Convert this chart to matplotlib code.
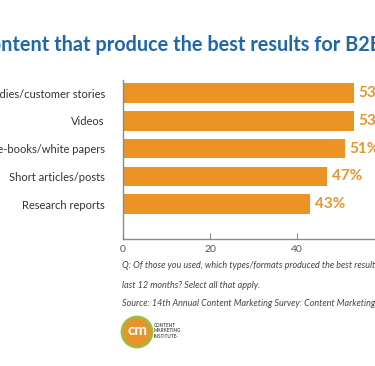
import matplotlib
matplotlib.use("Agg")
import matplotlib.pyplot as plt
from matplotlib.patches import Circle

# ---- data ----
categories = ["Case studies/customer stories", "Videos", "Long-form e-books/white papers",
              "Short articles/posts", "Research reports"]
values = [53, 53, 51, 47, 43]
value_labels = ["53%", "53%", "51%", "47%", "43%"]
x_ticks = [0, 20, 40, 60]
title = "Types of content that produce the best results for B2B marketers"
title_hidden_prefix = "Types of co"
note_q1 = "Q: Of those you used, which types/formats produced the best results for your organization in the"
note_q2 = "last 12 months? Select all that apply."
note_src = "Source: 14th Annual Content Marketing Survey: Content Marketing Institute/MarketingProfs"
logo_text = "CONTENT\nMARKETING\nINSTITUTE\u00b7"

plt.rcParams['font.family'] = ['Lato', 'DejaVu Sans']

W, H = 375, 366
fig = plt.figure(figsize=(W / 100, H / 100), dpi=100)
fig.patch.set_facecolor("white")

BAR = "#EB9425"
LBL = "#E8952E"
BLUE = "#2067AA"
AXC = "#8a8a8a"

# main axes (pixel geometry)
left, top, bottom = 123, 80, 239
xmax = 60
px_per_unit = 4.35
width_px = xmax * px_per_unit
ax = fig.add_axes([left / W, (H - bottom) / H, width_px / W, (bottom - top) / H])
ypos = list(range(len(categories)))
ax.barh(ypos, values, height=0.7, color=BAR, zorder=2)
ax.set_xlim(0, xmax)
ax.set_ylim(len(categories) - 1 + 1.26, -0.47)
ax.set_yticks(ypos)
ax.set_yticklabels(categories, fontsize=8.0, color="#333333")
ax.tick_params(axis="y", length=0, pad=13)
ax.set_xticks(x_ticks)
ax.set_xticklabels([str(t) for t in x_ticks], fontsize=7.5, color="#555555")
ax.tick_params(axis="x", direction="in", length=4, color=AXC, pad=4)
for s in ["top", "right"]:
    ax.spines[s].set_visible(False)
for s in ["left", "bottom"]:
    ax.spines[s].set_color(AXC)
    ax.spines[s].set_linewidth(1)
ax.set_facecolor("none")
for y, v, lab in zip(ypos, values, value_labels):
    ax.annotate(lab, (v, y), xytext=(3.5, 0), textcoords="offset points",
                va="center", ha="left", fontsize=11, fontweight="bold", color=LBL)

# overlay axes in pixel coords
ov = fig.add_axes([0, 0, 1, 1])
ov.set_xlim(0, W)
ov.set_ylim(H, 0)
ov.axis("off")
ov.patch.set_alpha(0)

# title, with hidden prefix shifted off the left edge
renderer = fig.canvas.get_renderer()
tsize = 14.3
tmp = ov.text(0, 0, title_hidden_prefix, fontsize=tsize, fontweight="bold")
pw = tmp.get_window_extent(renderer).width
tmp.remove()
ov.text(-pw + 1, 45, title, fontsize=tsize, fontweight="bold", color=BLUE, va="center", ha="left")

ov.text(122, 265, note_q1, fontsize=6.5, style="italic", color="#444444", va="center")
ov.text(122, 285, note_q2, fontsize=6.5, style="italic", color="#444444", va="center")
ov.text(122, 304, note_src, fontsize=6.5, style="italic", color="#444444", va="center")

# logo
ov.add_patch(Circle((137, 332), 15, facecolor="#E8942A", edgecolor="#A2BB3C", linewidth=2))
ov.text(137, 331, "cm", fontsize=11, fontweight="bold", color="white", ha="center", va="center")
ov.text(154, 331, logo_text, fontsize=3.3, fontweight="bold", color="#555555",
        ha="left", va="center", linespacing=1.1)

fig.savefig("out.png", dpi=100, facecolor="white")
